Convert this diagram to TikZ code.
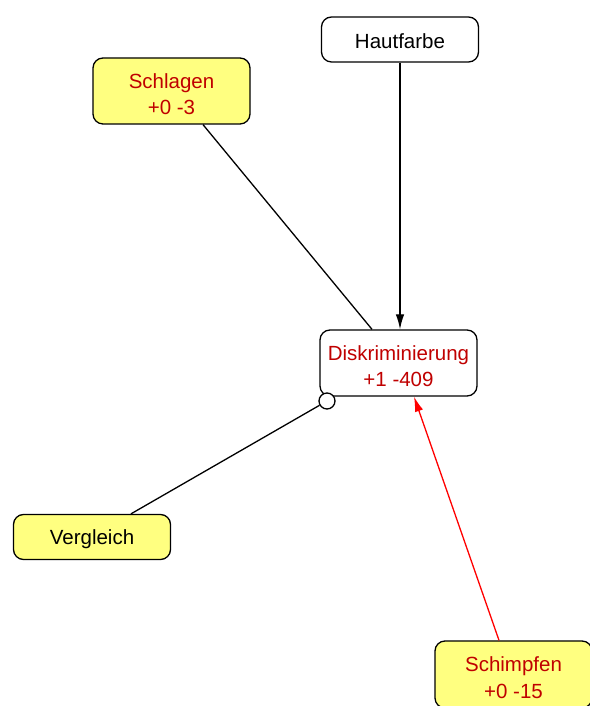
\documentclass[tikz,border=0pt]{standalone}
\usepackage{fontspec}
\setmainfont{Liberation Sans}
\usetikzlibrary{arrows.meta}
\definecolor{boxyellow}{RGB}{255,255,128}
\definecolor{textred}{RGB}{192,0,0}
\newcommand{\mytwolines}[2]{\raisebox{-5pt}[\height][\depth]{\begin{tabular}{@{}c@{}}#1\\#2\end{tabular}}}
\newcommand{\myoneline}[1]{\raisebox{-2pt}[\height][\depth]{#1}}
\begin{document}
\begin{tikzpicture}[x=1pt,y=1pt,
  box/.style={draw=black,line width=1.3pt,rounded corners=10pt,minimum width=157pt,inner sep=0pt,align=center,font=\fontsize{20.5}{26.5}\selectfont},
  ybox/.style={box,fill=boxyellow},
  wbox/.style={box,fill=white},
  one/.style={minimum height=45pt},
  two/.style={minimum height=66pt},
  edge/.style={line width=1.3pt},
  tip/.style={-{Latex[length=15pt,width=8.5pt]}}
]
\useasboundingbox (0,0) rectangle (589,706);
\node[wbox,one] (haut) at (400,666.5) {\myoneline{Hautfarbe}};
\node[ybox,two,text=textred] (schlagen) at (171.5,615) {\mytwolines{Schlagen}{+0 -3}};
\node[wbox,two,text=textred] (disk) at (398.5,343) {\mytwolines{Diskriminierung}{+1 -409}};
\node[ybox,one] (vergleich) at (92,169) {\myoneline{Vergleich}};
\node[ybox,two,minimum height=67pt,text=textred] (schimpfen) at (513.5,31.5) {\mytwolines{Schimpfen}{+0 -15}};
\node[circle,draw=black,line width=1.3pt,fill=white,minimum size=16pt,inner sep=0pt] (circ) at (327,305) {};
\draw[edge,tip] (haut.south) -- (haut.south |- disk.north);
\draw[edge] ([xshift=31.5pt]schlagen.south) -- ([xshift=-26.5pt]disk.north);
\draw[edge] ([xshift=39pt]vergleich.north) -- (circ);
\draw[edge,red,tip] ([xshift=-14.5pt]schimpfen.north) -- ([xshift=15.5pt]disk.south);
\end{tikzpicture}
\end{document}
